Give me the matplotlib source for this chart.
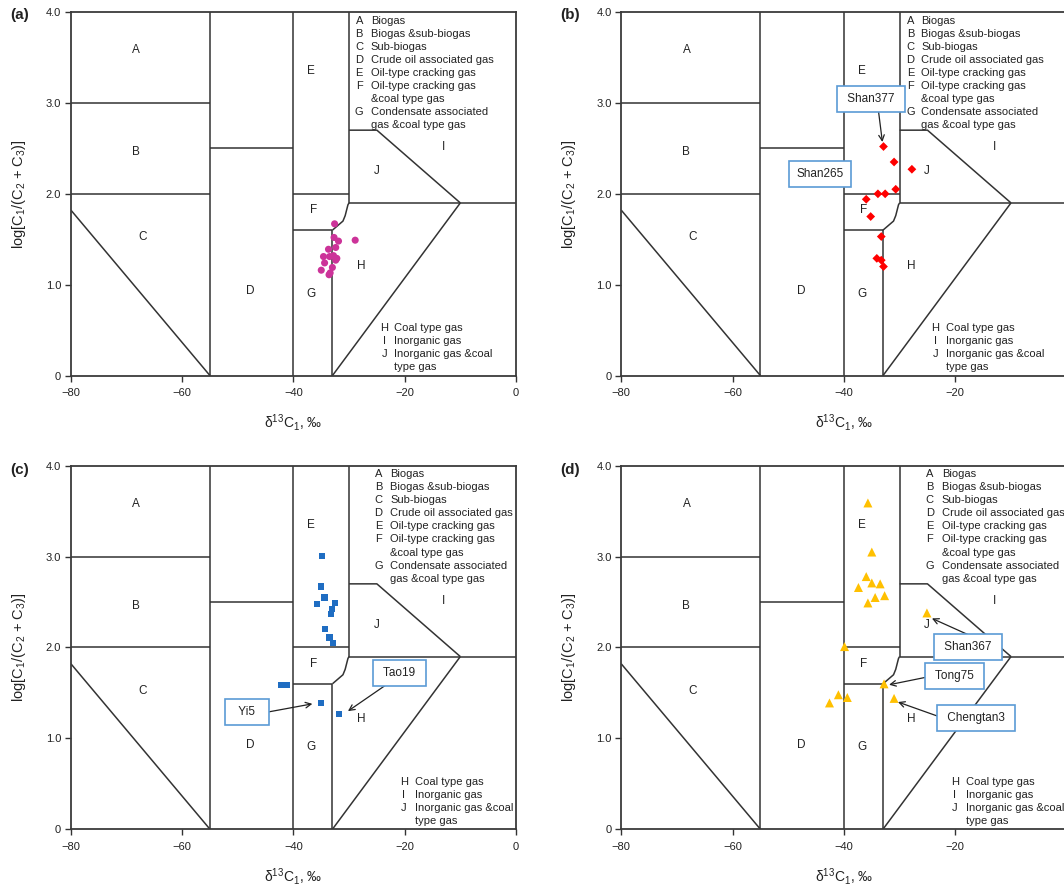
import matplotlib
matplotlib.use("Agg")
import matplotlib.pyplot as plt

plt.rcParams['font.family'] = ['Liberation Sans', 'DejaVu Sans']
plt.rcParams['mathtext.fontset'] = 'custom'
plt.rcParams['mathtext.rm'] = 'Liberation Sans'
plt.rcParams['mathtext.it'] = 'Liberation Sans'

# Sample data: delta13C1 (permil) and log[C1/(C2+C3)]
a_x = [-32.6, -32.7, -31.9, -28.9, -33.7, -32.4, -34.6, -33.5, -32.8, -32.2,
       -32.4, -34.4, -33.0, -35.0, -33.4, -33.6]
a_y = [1.67, 1.52, 1.48, 1.49, 1.39, 1.41, 1.31, 1.31, 1.32, 1.29,
       1.27, 1.24, 1.19, 1.16, 1.13, 1.11]

b_x = [-32.9, -31.0, -27.8, -30.7, -33.9, -32.6, -36.0, -35.2, -33.3, -34.1, -33.3, -32.9]
b_y = [2.52, 2.35, 2.27, 2.05, 2.00, 2.00, 1.94, 1.75, 1.53, 1.29, 1.27, 1.20]

c_x = [-34.9, -35.1, -34.4, -35.7, -32.6, -33.0, -33.2, -34.3, -33.5, -32.9,
       -42.2, -41.2, -35.0, -31.8]
c_y = [3.01, 2.67, 2.55, 2.48, 2.49, 2.42, 2.37, 2.20, 2.11, 2.05,
       1.59, 1.59, 1.39, 1.27]

d_x = [-35.7, -35.0, -36.0, -37.4, -35.0, -33.5, -32.7, -34.4, -35.7, -25.1,
       -39.9, -32.8, -31.0, -41.0, -39.4, -42.6]
d_y = [3.59, 3.05, 2.78, 2.66, 2.71, 2.70, 2.57, 2.55, 2.49, 2.38,
       2.01, 1.60, 1.44, 1.48, 1.45, 1.39]

# Genetic classification boundaries (x, y polylines)
boundaries = [
    ([-55, -55], [0, 4]),
    ([-80, -55], [3, 3]),
    ([-80, -55], [2, 2]),
    ([-80, -55], [1.82, 0]),
    ([-55, -40], [2.5, 2.5]),
    ([-40, -40], [0, 4]),
    ([-40, -30], [2, 2]),
    ([-30, -30], [1.9, 4]),
    ([-40, -33], [1.6, 1.6]),
    ([-33, -33], [0, 1.6]),
    ([-33, -31.1, -30.7, -30.2, -30], [1.6, 1.70, 1.76, 1.88, 1.9]),
    ([-30, 0], [1.9, 1.9]),
    ([-33, -10], [0, 1.9]),
    ([-30, -25, -10], [2.7, 2.7, 1.9]),
]

zone_labels = ['A', 'B', 'C', 'D', 'E', 'F', 'G', 'H', 'I', 'J']
zone_x = [-68.3, -68.3, -67.1, -47.7, -36.8, -36.4, -36.8, -27.9, -13.0, -25.1]
zone_y = [3.58, 2.46, 1.52, 0.93, 3.35, 1.82, 0.90, 1.21, 2.51, 2.25]

top_keys = ['A', 'B', 'C', 'D', 'E', 'F', '', 'G', '']
top_text = ['Biogas', 'Biogas &sub-biogas', 'Sub-biogas', 'Crude oil associated gas',
            'Oil-type cracking gas', 'Oil-type cracking gas', '&coal type gas',
            'Condensate associated', 'gas &coal type gas']
bottom_keys = ['H', 'I', 'J', '']
bottom_text = ['Coal type gas', 'Inorganic gas', 'Inorganic gas &coal', 'type gas']

line_col = '#333333'
box_col = '#5B9BD5'
arrow_kw = dict(arrowstyle='->', color='#222222', lw=0.9,
                shrinkA=0, shrinkB=0, mutation_scale=10)


def draw_panel(ax, xs, ys, marker, color, size, key_pos, key2_pos):
    for bx, by in boundaries:
        ax.plot(bx, by, color=line_col, lw=1.1, solid_capstyle='butt', zorder=1)
    for lab, zx, zy in zip(zone_labels, zone_x, zone_y):
        ax.text(zx, zy, lab, ha='center', va='center', fontsize=8.5, color='#222222')

    # key to the zones
    lx, tx = key_pos
    for i, (k, t) in enumerate(zip(top_keys, top_text)):
        yy = 0.976 - i * 0.0358
        ax.text(lx, yy, k, transform=ax.transAxes, ha='center', va='center',
                fontsize=8, color='#222222')
        ax.text(tx, yy, t, transform=ax.transAxes, ha='left', va='center',
                fontsize=8, color='#222222')
    lx, tx = key2_pos
    for i, (k, t) in enumerate(zip(bottom_keys, bottom_text)):
        yy = 0.130 - i * 0.0355
        ax.text(lx, yy, k, transform=ax.transAxes, ha='center', va='center',
                fontsize=8, color='#222222')
        ax.text(tx, yy, t, transform=ax.transAxes, ha='left', va='center',
                fontsize=8, color='#222222')

    ax.scatter(xs, ys, marker=marker, s=size, color=color, edgecolors='none',
               zorder=3, clip_on=False)

    ax.set_xlim(-80, 0)
    ax.set_ylim(0, 4)
    ax.set_xticks([-80, -60, -40, -20, 0])
    ax.set_yticks([0, 1, 2, 3, 4])
    ax.set_yticklabels(['0', '1.0', '2.0', '3.0', '4.0'])
    ax.tick_params(direction='out', length=4, width=1, labelsize=8,
                   colors='#333333', labelcolor='#222222')
    ax.tick_params(axis='x', pad=5)
    ax.tick_params(axis='y', pad=3)
    for sp in ax.spines.values():
        sp.set_color('#3a3a3a')
        sp.set_linewidth(1.3)
    ax.set_xlabel('δ$^{13}$C$_1$, ‰', fontsize=10, color='#222222')
    ax.xaxis.set_label_coords(0.5, -0.100)
    ax.set_ylabel('log[C$_1$/(C$_2$ + C$_3$)]', fontsize=10.5, color='#222222')
    ax.yaxis.set_label_coords(-0.097, 0.5)


def tag(ax, text, centre):
    box = dict(boxstyle='square,pad=0.6', fc='white', ec=box_col, lw=1.2)
    ax.text(centre[0], centre[1], text, ha='center', va='center',
            fontsize=8.5, color='#222222', bbox=box, zorder=4)


def pointer(ax, tip, start):
    ax.annotate('', xy=tip, xytext=start, arrowprops=arrow_kw)


fig = plt.figure(figsize=(10.64, 8.86), dpi=100)
ax_a = fig.add_axes([0.0667, 0.5760, 0.4182, 0.4105])
ax_b = fig.add_axes([0.5839, 0.5760, 0.4186, 0.4105])
ax_c = fig.add_axes([0.0667, 0.0640, 0.4182, 0.4104])
ax_d = fig.add_axes([0.5839, 0.0640, 0.4186, 0.4104])

draw_panel(ax_a, a_x, a_y, 'o', '#CC3399', 26, (0.648, 0.6735), (0.704, 0.727))
draw_panel(ax_b, b_x, b_y, 'D', '#FF0000', 20, (0.649, 0.674), (0.705, 0.729))
draw_panel(ax_c, c_x, c_y, 's', '#1F6DC2', 20, (0.691, 0.718), (0.748, 0.773))
draw_panel(ax_d, d_x, d_y, '^', '#FFC000', 42, (0.693, 0.720), (0.749, 0.774))

# sample annotations
tag(ax_b, ' Shan377 ', (-35.2, 3.04))
pointer(ax_b, (-33.1, 2.57), (-33.8, 2.91))
tag(ax_b, 'Shan265', (-44.3, 2.22))

tag(ax_c, '  Yi5  ', (-48.4, 1.29))
pointer(ax_c, (-36.6, 1.38), (-44.6, 1.29))
tag(ax_c, ' Tao19 ', (-20.9, 1.716))
pointer(ax_c, (-30.2, 1.30), (-23.2, 1.595))

tag(ax_d, ' Shan367 ', (-17.8, 2.005))
pointer(ax_d, (-24.2, 2.32), (-17.3, 2.13))
tag(ax_d, ' Tong75 ', (-20.2, 1.685))
pointer(ax_d, (-31.9, 1.59), (-24.65, 1.68))
tag(ax_d, ' Chengtan3 ', (-16.3, 1.228))
pointer(ax_d, (-30.3, 1.40), (-22.5, 1.23))

for lab, x, y in [('(a)', 0.0094, 0.983), ('(b)', 0.527, 0.983),
                  ('(c)', 0.0094, 0.470), ('(d)', 0.527, 0.470)]:
    fig.text(x, y, lab, ha='left', va='center', fontsize=11, fontweight='bold',
             color='#222222')

fig.savefig('out.png', dpi=100)
